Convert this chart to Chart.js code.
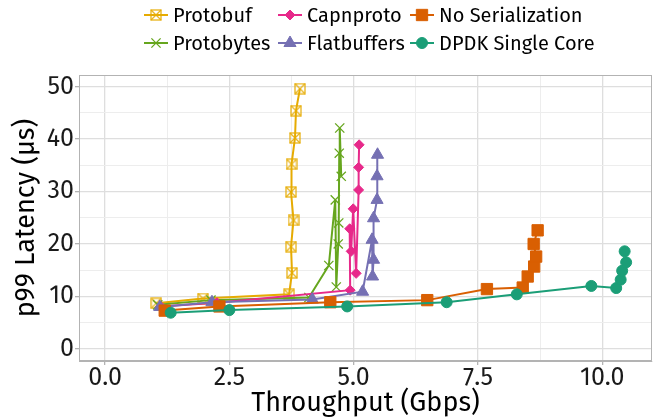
<!DOCTYPE html>
<html lang="en"><head>
<meta charset="utf-8">
<title>p99 Latency vs Throughput</title>
<style>
  * { margin: 0; padding: 0; }
  body { background: #ffffff; width: 661px; height: 418px; overflow: hidden; }
  #chart { display: block; }
</style>
</head>
<body>
<canvas id="chart" width="661" height="418"></canvas>
<script src="https://cdn.jsdelivr.net/npm/chart.js@4.4.1/dist/chart.umd.min.js"></script>
<script>
// ---- data ----
const protobufX = [1.03, 1.97, 3.70, 3.76, 3.74, 3.79, 3.74, 3.75, 3.82, 3.84, 3.92];
const protobufY = [8.7, 9.6, 10.4, 14.5, 19.5, 24.5, 29.9, 35.2, 40.2, 45.4, 49.6];

const protobytesX = [1.06, 2.13, 4.10, 4.50, 4.63, 4.65, 4.69, 4.70, 4.71, 4.72, 4.75];
const protobytesY = [8.4, 9.3, 9.8, 15.9, 28.4, 11.8, 20.0, 24.0, 37.3, 42.1, 32.9];

const capnprotoX = [1.12, 2.25, 4.93, 4.92, 4.95, 4.99, 5.05, 5.10, 5.10, 5.11];
const capnprotoY = [8.1, 8.8, 11.2, 22.9, 18.6, 26.7, 14.4, 30.3, 34.6, 38.9];

const flatbuffersX = [1.10, 2.15, 4.17, 5.18, 5.37, 5.38, 5.40, 5.40, 5.47, 5.47, 5.48];
const flatbuffersY = [8.0, 8.9, 9.4, 10.9, 20.8, 13.8, 17.0, 24.9, 28.4, 32.9, 37.0];

const noSerX = [1.20, 2.30, 4.53, 6.48, 7.68, 8.40, 8.50, 8.63, 8.67, 8.62, 8.70];
const noSerY = [7.3, 8.1, 8.9, 9.3, 11.4, 11.7, 13.8, 15.7, 17.6, 20.0, 22.6];

const dpdkX = [1.32, 2.50, 4.87, 6.87, 8.28, 9.78, 10.28, 10.37, 10.40, 10.48, 10.45];
const dpdkY = [6.9, 7.4, 8.1, 8.9, 10.4, 12.0, 11.6, 13.2, 14.9, 16.5, 18.6];

const xMajorTicks = [0, 2.5, 5, 7.5, 10];
const xMinorTicks = [1.25, 3.75, 6.25, 8.75];
const yMajorTicks = [0, 10, 20, 30, 40, 50];
const yMinorTicks = [5, 15, 25, 35, 45];

// ---- styling ----
const FONT = "'Fira Sans', 'Noto Sans', sans-serif";
const BORDER = '#b3b3b3';

// square with a cross in it (ggplot shape 7)
function boxCross(color, size) {
  const c = document.createElement('canvas');
  c.width = size; c.height = size;
  const g = c.getContext('2d');
  g.strokeStyle = color;
  g.globalAlpha = 0.85;
  g.lineWidth = 1.4;
  const p = 1;
  g.strokeRect(p, p, size - 2 * p, size - 2 * p);
  g.beginPath();
  g.moveTo(p, p); g.lineTo(size - p, size - p);
  g.moveTo(size - p, p); g.lineTo(p, size - p);
  g.stroke();
  return c;
}

const series = [
  { name: 'Protobuf', xs: protobufX, ys: protobufY, color: '#e6ab02', style: boxCross('#e6ab02', 12), r: 6, bw: 1 },
  { name: 'Protobytes', xs: protobytesX, ys: protobytesY, color: '#66a61e', style: 'crossRot', r: 6.5, bw: 1.3 },
  { name: 'Capnproto', xs: capnprotoX, ys: capnprotoY, color: '#e7298a', style: 'rectRot', r: 5, bw: 1 },
  { name: 'Flatbuffers', xs: flatbuffersX, ys: flatbuffersY, color: '#7570b3', style: 'triangle', r: 7, bw: 1 },
  { name: 'No Serialization', xs: noSerX, ys: noSerY, color: '#d95f02', style: 'rect', r: 8, bw: 1 },
  { name: 'DPDK Single Core', xs: dpdkX, ys: dpdkY, color: '#1b9e77', style: 'circle', r: 5.5, bw: 1 }
];

// legend grid (ggplot places them column-wise, 2 rows)
const legendCols = [144, 278, 410];
const legendRows = [15, 43];
const legendOrder = [[0, 2, 4], [1, 3, 5]];

const ggLegend = {
  id: 'ggLegend',
  afterDraw(chart) {
    const ctx = chart.ctx;
    ctx.save();
    legendOrder.forEach((row, ri) => {
      row.forEach((si, ci) => {
        const s = series[si];
        const x0 = legendCols[ci], y = legendRows[ri];
        ctx.strokeStyle = s.color;
        ctx.fillStyle = s.color;
        ctx.lineWidth = 2;
        ctx.beginPath();
        ctx.moveTo(x0, y); ctx.lineTo(x0 + 24, y);
        ctx.stroke();
        ctx.lineWidth = s.bw;
        Chart.helpers.drawPoint(ctx, { pointStyle: s.style, radius: s.r, borderWidth: s.bw, rotation: 0 }, x0 + 12, y);
        ctx.fillStyle = '#000000';
        ctx.font = '20px ' + FONT;
        ctx.textBaseline = 'middle';
        ctx.textAlign = 'left';
        ctx.fillText(s.name, x0 + 29, y + 1);
      });
    });
    ctx.restore();
  }
};

const panelBorder = {
  id: 'panelBorder',
  afterDatasetsDraw(chart) {
    const a = chart.chartArea, ctx = chart.ctx;
    ctx.save();
    ctx.strokeStyle = BORDER;
    ctx.lineWidth = 1;
    ctx.strokeRect(a.left + 0.5, a.top + 0.5, a.right - a.left - 1, a.bottom - a.top - 1);
    ctx.restore();
  }
};

const datasets = series.slice().reverse().map(s => ({
  label: s.name,
  data: s.xs.map((x, i) => ({ x: x, y: s.ys[i] })),
  showLine: true,
  borderColor: s.color,
  backgroundColor: s.color,
  borderWidth: 2,
  pointStyle: s.style,
  pointRadius: s.r,
  pointBorderWidth: s.bw,
  pointBackgroundColor: s.color,
  pointBorderColor: s.color
}));

const isIn = (arr, v) => arr.some(t => Math.abs(t - v) < 1e-6);

new Chart(document.getElementById('chart'), {
  type: 'scatter',
  data: { datasets: datasets },
  plugins: [panelBorder, ggLegend],
  options: {
    responsive: false,
    animation: false,
    devicePixelRatio: 1,
    layout: { padding: { top: 75, right: 6, left: 0, bottom: 0 } },
    plugins: { legend: { display: false }, tooltip: { enabled: false } },
    scales: {
      x: {
        type: 'linear',
        min: -0.524, max: 11.0,
        afterBuildTicks: sc => { sc.ticks = xMajorTicks.concat(xMinorTicks).sort((a, b) => a - b).map(v => ({ value: v })); },
        afterFit: sc => { sc.height = 57; },
        ticks: {
          autoSkip: false, maxRotation: 0, padding: -2,
          color: '#1a1a1a', font: { family: FONT, size: 25 },
          callback: v => isIn(xMajorTicks, v) ? v.toFixed(1) : ''
        },
        grid: {
          color: c => isIn(xMajorTicks, c.tick.value) ? '#dedede' : '#ededed',
          lineWidth: c => isIn(xMajorTicks, c.tick.value) ? 1.3 : 1,
          tickColor: c => isIn(xMajorTicks, c.tick.value) ? BORDER : 'rgba(0,0,0,0)',
          tickLength: 4
        },
        border: { color: BORDER },
        title: { display: true, text: 'Throughput (Gbps)', color: '#000000', font: { family: FONT, size: 27 }, padding: { top: 0, bottom: -2 } }
      },
      y: {
        type: 'linear',
        min: -2.3, max: 52.2,
        afterBuildTicks: sc => { sc.ticks = yMajorTicks.concat(yMinorTicks).sort((a, b) => a - b).map(v => ({ value: v })); },
        afterFit: sc => { sc.width = 79; },
        ticks: {
          autoSkip: false, padding: 1,
          color: '#1a1a1a', font: { family: FONT, size: 25 },
          callback: v => isIn(yMajorTicks, v) ? String(v) : ''
        },
        grid: {
          color: c => isIn(yMajorTicks, c.tick.value) ? '#dedede' : '#ededed',
          lineWidth: c => isIn(yMajorTicks, c.tick.value) ? 1.3 : 1,
          tickColor: c => isIn(yMajorTicks, c.tick.value) ? BORDER : 'rgba(0,0,0,0)',
          tickLength: 4
        },
        border: { color: BORDER },
        title: { display: true, text: 'p99 Latency (μs)', color: '#000000', font: { family: FONT, size: 27 }, padding: { top: 10, bottom: 0 } }
      }
    }
  }
});
</script>
</body></html>
